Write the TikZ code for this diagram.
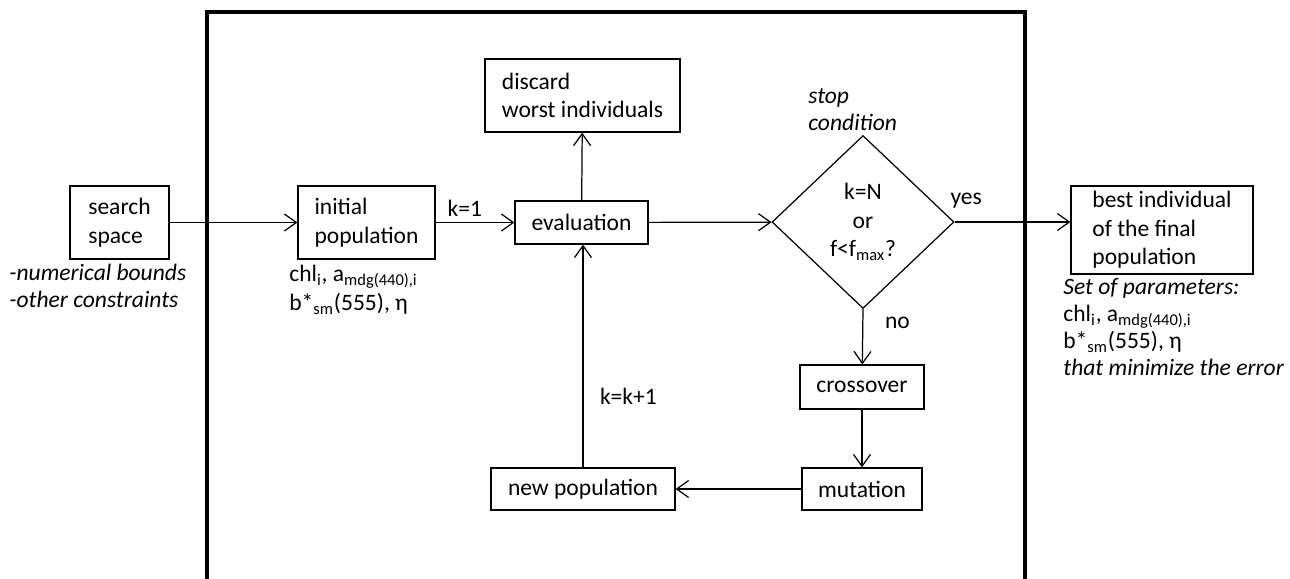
\documentclass[tikz,border=0pt]{standalone}
\usepackage{fontspec}
\setmainfont{Carlito}
\usetikzlibrary{arrows.meta,positioning,shapes.geometric}

\begin{document}
\begin{tikzpicture}[
  x=0.02cm, y=-0.02cm,
  every node/.style={font=\fontsize{13.4pt}{16.3pt}\selectfont},
  box/.style={draw, line width=0.7pt, inner sep=0pt, align=left},
  note/.style={anchor=north west, inner sep=0pt, align=left, font=\fontsize{13.4pt}{15.3pt}\selectfont},
  arrow/.style={-{Straight Barb[length=2.4mm,width=3.4mm]}, line width=0.7pt},
  frame/.style={line width=1.8pt},
]
\useasboundingbox (0,0) rectangle (1290,578);

% outer frame (open at the bottom)
\draw[frame] (207,585) |- (1025,12) -- (1025,585);

% input side
\node[box, minimum width=1.98cm, minimum height=1.46cm] (space) at (119.5,222.5) {search\\space};
\node[note, font=\fontsize{13.4pt}{15.3pt}\selectfont\itshape] (bounds) at (9,264) {-numerical bounds\\-other constraints};

\node[box, minimum width=2.74cm, minimum height=1.46cm] (init) at (366.5,222.5) {initial\\population};
\node[note, font=\fontsize{13.4pt}{16.5pt}\selectfont] (params) at (289,265) {chl\textsubscript{i}, a\textsubscript{mdg(440),i}\\b*\textsubscript{sm}(555), η};

% main loop
\node[box, minimum width=2.66cm, minimum height=0.86cm] (eval) at (581.5,222.5) {evaluation};
\node[box, minimum width=3.9cm, minimum height=1.46cm] (discard) at (582.5,95.5) {discard\\worst individuals};
\node[draw, diamond, line width=0.7pt, inner sep=0pt, align=center,
      minimum width=3.64cm, minimum height=3.46cm] (cond) at (863,222) {k=N\\or\\f<f\textsubscript{max}?};
\node[note, font=\fontsize{13.4pt}{15.3pt}\selectfont\itshape] (stop) at (808,88) {stop\\condition};
\node[box, minimum width=2.48cm, minimum height=0.88cm] (cross) at (862,387) {crossover};
\node[box, minimum width=2.4cm, minimum height=0.84cm] (mut) at (862,489) {mutation};
\node[box, minimum width=3.68cm, minimum height=0.84cm] (newpop) at (583,489) {new population};

% output side
\node[box, minimum width=3.64cm, minimum height=1.76cm] (best) at (1162,230) {best individual\\of the final\\population};
\node[note] (result) at (1063,278) {\textit{Set of parameters:}\\chl\textsubscript{i}, a\textsubscript{mdg(440),i}\\b*\textsubscript{sm}(555), η\\\textit{that minimize the error}};

% arrows
\draw[arrow] (space) -- (init);
\draw[arrow] (init) -- node[above, pos=0.37] {k=1} (eval);
\draw[arrow] (eval) -- (discard);
\draw[arrow] (eval) -- (cond);
\draw[arrow] (cond.east) -- node[above, pos=0.1, yshift=4pt] {yes} (cond.east -| best.west);
\draw[arrow] (cond.south) -- node[right, pos=0.25, xshift=9pt] {no} (cross);
\draw[arrow] (cross) -- (mut);
\draw[arrow] (mut) -- (newpop);
\draw[arrow] (newpop) -- node[right, pos=0.32, xshift=6pt] {k=k+1} (newpop |- eval.south);

\end{tikzpicture}
\end{document}
